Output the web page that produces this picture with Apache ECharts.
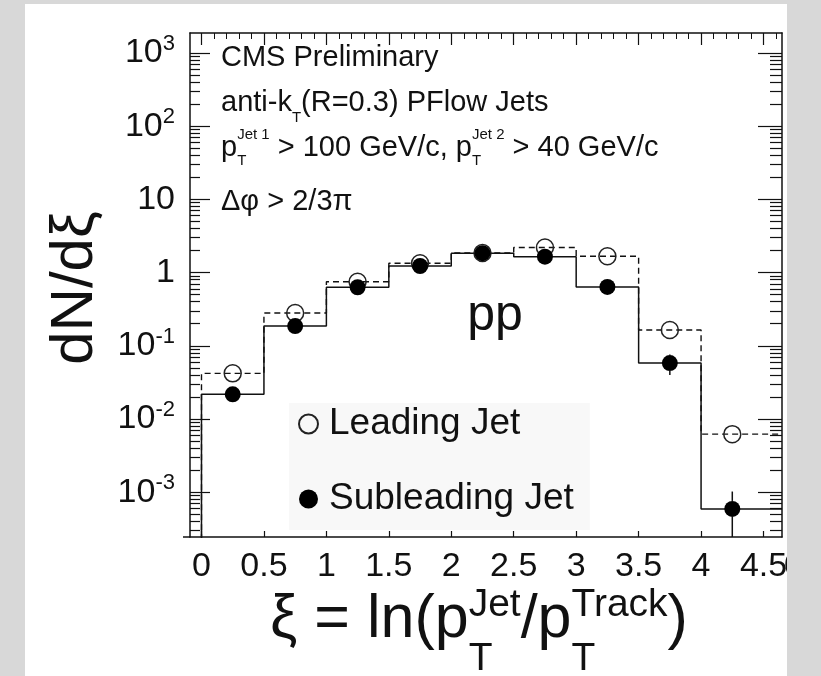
<!DOCTYPE html>
<html><head><meta charset="utf-8">
<script src="https://cdn.jsdelivr.net/npm/echarts@6/dist/echarts.min.js"></script>
<style>html,body{margin:0;padding:0;background:#d8d8d8;}#c{width:821px;height:676px;}</style>
</head><body><div id="c"></div>
<script>
// ---- data ----
const binEdges = [0, 0.5, 1, 1.5, 2, 2.5, 3, 3.5, 4, 4.5];
const binCenters = [0.25, 0.75, 1.25, 1.75, 2.25, 2.75, 3.25, 3.75, 4.25];
const leadingJet = [0.042, 0.28, 0.75, 1.34, 1.85, 2.2, 1.67, 0.164, 0.0062];
const leadingErr = [0.002, 0.008, 0.015, 0.02, 0.025, 0.03, 0.03, 0.012, 0.0012];
const subleadingJet = [0.0217, 0.186, 0.63, 1.23, 1.84, 1.65, 0.636, 0.058, 0.00059];
const subleadingErr = [0.001, 0.005, 0.01, 0.015, 0.02, 0.02, 0.01, 0.018, 0.00043];
const xTickValues = [0, 0.5, 1, 1.5, 2, 2.5, 3, 3.5, 4, 4.5];
const xTickLabels = ['0', '0.5', '1', '1.5', '2', '2.5', '3', '3.5', '4', '4.5'];
const yDecades = [1e-3, 1e-2, 1e-1, 1, 10, 100, 1000];
const seriesNames = ['Leading Jet', 'Subleading Jet'];

// ---- axis ranges ----
const xMin = -0.092, xMax = 4.648;
const yMin = 2.44e-4, yMax = 1874;

const FONT = '"Liberation Sans", Arial, Helvetica, sans-serif';
const INK = '#111';

const yMinor = [];
for (let d = -4; d <= 3; d++) for (let m = 2; m <= 9; m++) {
  const v = m * Math.pow(10, d);
  if (v > yMin && v < yMax) yMinor.push(v);
}
const xMinorTop = [];
for (let k = 0; k <= 46; k++) xMinorTop.push(+(k * 0.1).toFixed(1));

function stepData(vals) {
  const d = [[binEdges[0], yMin / 10]];
  for (let i = 0; i < vals.length; i++) {
    d.push([binEdges[i], vals[i]]);
    d.push([binEdges[i + 1], vals[i]]);
  }
  d.push([xMax, vals[vals.length - 1]]);
  return d;
}

// text layout helper (super/subscripts)
const mctx = document.createElement('canvas').getContext('2d');
function tw(t, s) { mctx.font = s + 'px "Liberation Sans"'; return mctx.measureText(t).width; }
function txt(t, x, base, s, align) {
  return { type: 'text', x: x, y: base - 0.3465 * s, z: 50,
    style: { text: t, font: s + 'px ' + FONT, fill: INK, align: align || 'left', verticalAlign: 'middle' } };
}
function richLine(x0, base, parts, main, script, raise, drop, center) {
  let w = 0;
  parts.forEach(p => {
    if (p.t !== undefined) p.w = tw(p.t, main);
    else p.w = Math.max(p.sup ? tw(p.sup, script) : 0, p.sub ? tw(p.sub, script) : 0);
    w += p.w;
  });
  let x = center ? x0 - w / 2 : x0;
  const els = [];
  parts.forEach(p => {
    if (p.t !== undefined) els.push(txt(p.t, x, base, main));
    else {
      if (p.sup) els.push(txt(p.sup, x, base - raise, script));
      if (p.sub) els.push(txt(p.sub, x, base + drop, script));
    }
    x += p.w;
  });
  return els;
}

const graphics = [
  { type: 'rect', z: -100, shape: { x: 25, y: 4, width: 762, height: 672 }, style: { fill: '#ffffff' } },
  { type: 'line', z: 10, shape: { x1: 183, y1: 537, x2: 190, y2: 537 }, style: { stroke: INK, lineWidth: 1.5 } },
  ...richLine(221, 68.5, [{ t: 'CMS Preliminary' }], 29, 15, 0, 0, false),
  ...richLine(221, 113.5, [{ t: 'anti-k' }, { sub: 'T' }, { t: '(R=0.3) PFlow Jets' }], 29, 15, 0, 10, false),
  ...richLine(221, 158.5, [{ t: 'p' }, { sup: 'Jet 1', sub: 'T' }, { t: ' > 100 GeV/c, p' }, { sup: 'Jet 2', sub: 'T' }, { t: ' > 40 GeV/c' }], 29, 15, 18, 8, false),
  ...richLine(221, 212, [{ t: 'Δφ > 2/3π' }], 29, 15, 0, 0, false),
  txt('pp', 495, 334, 50, 'center'),
  ...richLine(479, 641, [{ t: 'ξ = ln(p' }, { sup: 'Jet', sub: 'T' }, { t: '/p' }, { sup: 'Track', sub: 'T' }, { t: ')' }], 61, 39, 22, 32, true),
  { type: 'text', x: 75, y: 288, rotation: Math.PI / 2, z: 50,
    style: { text: 'dN/dξ', font: '60px ' + FONT, fill: INK, align: 'center', verticalAlign: 'middle' } },
  txt('0', 784, 578, 34, 'left'),
  { type: 'rect', z: 100, shape: { x: 787, y: 0, width: 34, height: 676 }, style: { fill: '#d8d8d8' } }
];

const axisLine = { show: true, onZero: false, lineStyle: { color: INK, width: 1.5 } };
const noLine = { show: false, onZero: false };
function yAx(pos, len, vals, labels) {
  return {
    type: 'log', logBase: 10, position: pos, min: yMin, max: yMax,
    axisLine: len > 15 ? axisLine : noLine,
    splitLine: { show: false },
    axisTick: { show: true, inside: true, length: len, customValues: vals, lineStyle: { color: INK, width: 1.2 } },
    axisLabel: labels ? labels : { show: false }
  };
}

const option = {
  backgroundColor: '#d8d8d8',
  animation: false,
  grid: { left: 190, top: 33, width: 592, height: 504, outerBoundsMode: 'none' },
  graphic: graphics,
  legend: {
    left: 289, top: 403, orient: 'vertical', padding: [1, 16, 11, 9],
    itemGap: 35, itemWidth: 19, itemHeight: 19, backgroundColor: '#f8f8f8',
    textStyle: { fontSize: 37, lineHeight: 40, color: INK, fontFamily: FONT, padding: [0, 0, 0, 6] },
    data: seriesNames
  },
  xAxis: [
    { type: 'value', position: 'bottom', min: xMin, max: xMax, axisLine: axisLine, splitLine: { show: false },
      axisTick: { inside: true, length: 6, customValues: xTickValues, lineStyle: { color: INK, width: 1.2 } },
      axisLabel: { customValues: xTickValues, margin: 13, fontSize: 34, lineHeight: 34, color: INK, fontFamily: FONT,
        formatter: v => xTickLabels[xTickValues.indexOf(+v.toFixed(1))] } },
    { type: 'value', position: 'top', min: xMin, max: xMax, axisLine: axisLine, splitLine: { show: false },
      axisTick: { inside: true, length: 12, customValues: xTickValues, lineStyle: { color: INK, width: 1.2 } },
      axisLabel: { show: false } },
    { type: 'value', position: 'top', min: xMin, max: xMax, axisLine: noLine, splitLine: { show: false },
      axisTick: { inside: true, length: 6, customValues: xMinorTop, lineStyle: { color: INK, width: 1 } },
      axisLabel: { show: false } }
  ],
  yAxis: [
    yAx('left', 20, yDecades, {
      customValues: yDecades, margin: 15, color: INK, fontFamily: FONT,
      formatter: v => {
        const e = Math.round(Math.log10(v));
        if (e === 0) return '{b|1}';
        if (e === 1) return '{b|10}';
        return '{b|10}{s|' + e + '}';
      },
      rich: {
        b: { fontSize: 34, lineHeight: 40, fontFamily: FONT, color: INK },
        s: { fontSize: 22, lineHeight: 22, verticalAlign: 'top', fontFamily: FONT, color: INK }
      }
    }),
    yAx('left', 10, yMinor),
    yAx('right', 24, yDecades),
    yAx('right', 12, yMinor)
  ],
  series: [
    { type: 'line', name: 'leadHist', xAxisIndex: 0, yAxisIndex: 0, data: stepData(leadingJet), symbol: 'none',
      lineStyle: { color: INK, width: 1.4, type: [6, 4] }, silent: true, z: 3 },
    { type: 'line', name: 'subHist', xAxisIndex: 0, yAxisIndex: 0, data: stepData(subleadingJet), symbol: 'none',
      lineStyle: { color: INK, width: 1.5 }, silent: true, z: 3 },
    { type: 'custom', name: 'errors', xAxisIndex: 0, yAxisIndex: 0, z: 4, silent: true,
      data: binCenters.map((x, i) => [x, subleadingJet[i] - subleadingErr[i], subleadingJet[i] + subleadingErr[i], subleadingJet[i]])
        .concat(binCenters.map((x, i) => [x, leadingJet[i] - leadingErr[i], leadingJet[i] + leadingErr[i], leadingJet[i]])),
      renderItem: (params, api) => {
        const x = api.value(0), v = api.value(3);
        const lo = Math.max(api.value(1), yMin), hi = Math.min(api.value(2), yMax);
        const pc = api.coord([x, v]), pl = api.coord([x, lo]), ph = api.coord([x, hi]);
        const r = 8, ch = [];
        const st = { stroke: INK, lineWidth: 1.5 };
        if (ph[1] < pc[1] - r) ch.push({ type: 'line', shape: { x1: pc[0], y1: pc[1] - r, x2: pc[0], y2: ph[1] }, style: st });
        if (pl[1] > pc[1] + r) ch.push({ type: 'line', shape: { x1: pc[0], y1: pc[1] + r, x2: pc[0], y2: pl[1] }, style: st });
        return { type: 'group', children: ch };
      } },
    { type: 'scatter', name: seriesNames[0], xAxisIndex: 0, yAxisIndex: 0, z: 5,
      data: binCenters.map((x, i) => [x, leadingJet[i]]), symbol: 'circle', symbolSize: 17,
      itemStyle: { color: 'rgba(255,255,255,0)', borderColor: '#222', borderWidth: 1.5, opacity: 1 } },
    { type: 'scatter', name: seriesNames[1], xAxisIndex: 0, yAxisIndex: 0, z: 5,
      data: binCenters.map((x, i) => [x, subleadingJet[i]]), symbol: 'circle', symbolSize: 16,
      itemStyle: { color: '#000', borderWidth: 0, opacity: 1 } }
  ]
};
const chart = echarts.init(document.getElementById('c'), null, { renderer: 'canvas' });
chart.setOption(option);
</script>
</body></html>
